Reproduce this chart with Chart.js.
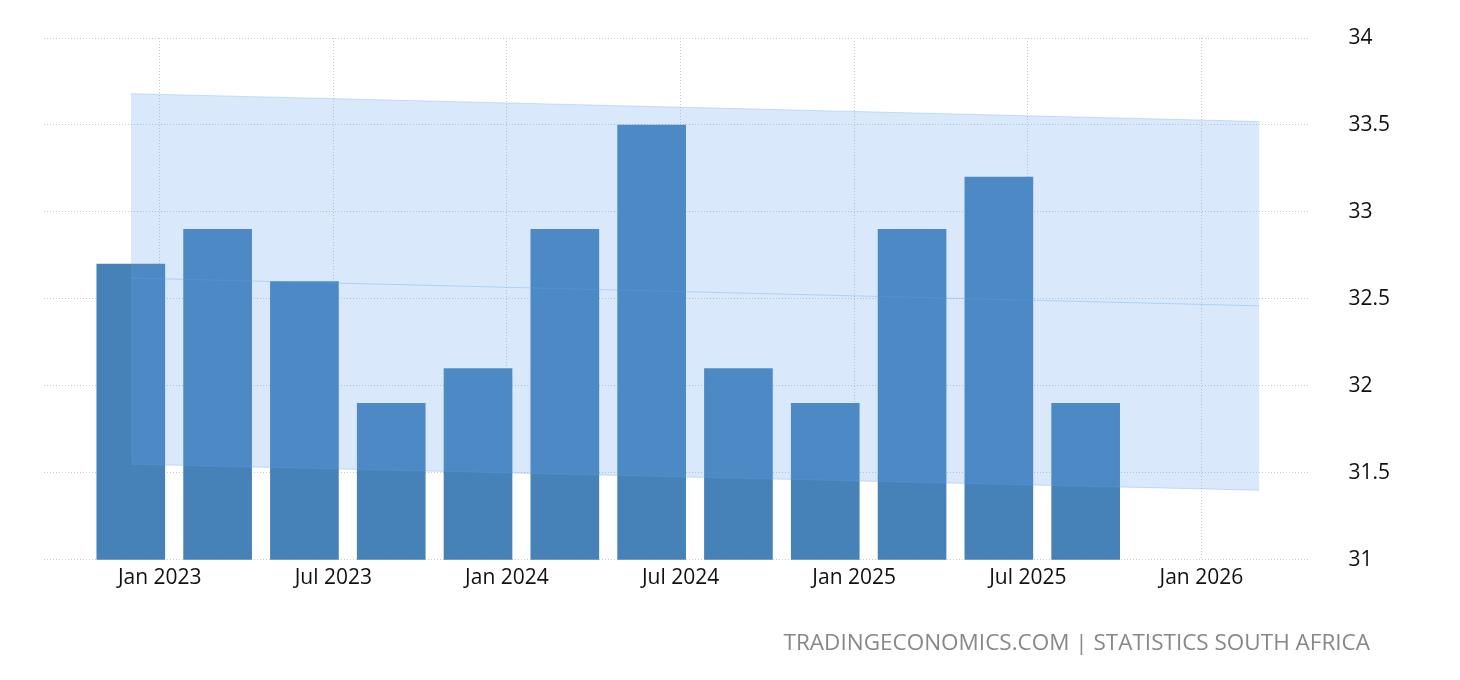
<!DOCTYPE html>
<html><head><meta charset="utf-8">
<script src="https://cdn.jsdelivr.net/npm/chart.js@4"></script>
<style>body{margin:0;background:#fff;font-family:"Open Sans",sans-serif}
#w{position:relative;width:1460px;height:680px}
#src{position:absolute;right:90px;top:626px;font-size:22.5px;color:#888}</style></head>
<body><div id="w"><canvas id="c" width="1460" height="680"></canvas>
<div id="src">TRADINGECONOMICS.COM | STATISTICS SOUTH AFRICA</div></div>
<script>
// months since Jan 2023
const barMonths=[-1,2,5,8,11,14,17,20,23,26,29,32];
const barValues=[32.7,32.9,32.6,31.9,32.1,32.9,33.5,32.1,31.9,32.9,33.2,31.9];
const tickMonths=[0,6,12,18,24,30,36];
const tickLabels=['Jan 2023','Jul 2023','Jan 2024','Jul 2024','Jan 2025','Jul 2025','Jan 2026'];
const bandMonths=[-1,38];
const bandTop=[33.68,33.52];
const bandMid=[32.62,32.46];
const bandLow=[31.55,31.40];
const pts=(xs,ys)=>xs.map((x,i)=>({x,y:ys[i]}));
new Chart(document.getElementById('c'),{
 data:{datasets:[
  {type:'line',data:pts(bandMonths,bandTop),borderColor:'rgba(100,160,240,0.3)',borderWidth:1,pointRadius:0,fill:'+2',backgroundColor:'rgba(100,160,240,0.245)',order:0},
  {type:'line',data:pts(bandMonths,bandMid),borderColor:'rgba(100,160,240,0.35)',borderWidth:1,pointRadius:0,fill:false,order:0},
  {type:'line',data:pts(bandMonths,bandLow),borderColor:'rgba(100,160,240,0.3)',borderWidth:1,pointRadius:0,fill:false,order:0},
  {type:'bar',data:pts(barMonths,barValues),backgroundColor:'#4682b8',barThickness:68,order:1}
 ]},
 options:{responsive:false,animation:false,
  layout:{padding:{left:44,right:30,top:38,bottom:83}},
  plugins:{legend:{display:false},tooltip:{enabled:false}},
  scales:{
   x:{type:'linear',min:-4,max:39.7,offset:false,
    afterBuildTicks:a=>{a.ticks=tickMonths.map(v=>({value:v}));},
    ticks:{autoSkip:false,maxRotation:0,color:'#111',font:{size:21,family:'Open Sans'},callback:(v)=>tickLabels[tickMonths.indexOf(v)],padding:6},
    grid:{color:'#ccc',offset:false,drawTicks:false},border:{display:false,dash:[1,2]}},
   y:{position:'right',min:31,max:34,
    afterFit:s=>{s.paddingTop=0;s.paddingBottom=0;},
    ticks:{stepSize:0.5,color:'#111',font:{size:21,family:'Open Sans'},padding:40,callback:v=>String(v)},
    grid:{color:'#ccc',drawTicks:false},border:{display:false,dash:[1,2]}}
  }}
});
</script></body></html>
